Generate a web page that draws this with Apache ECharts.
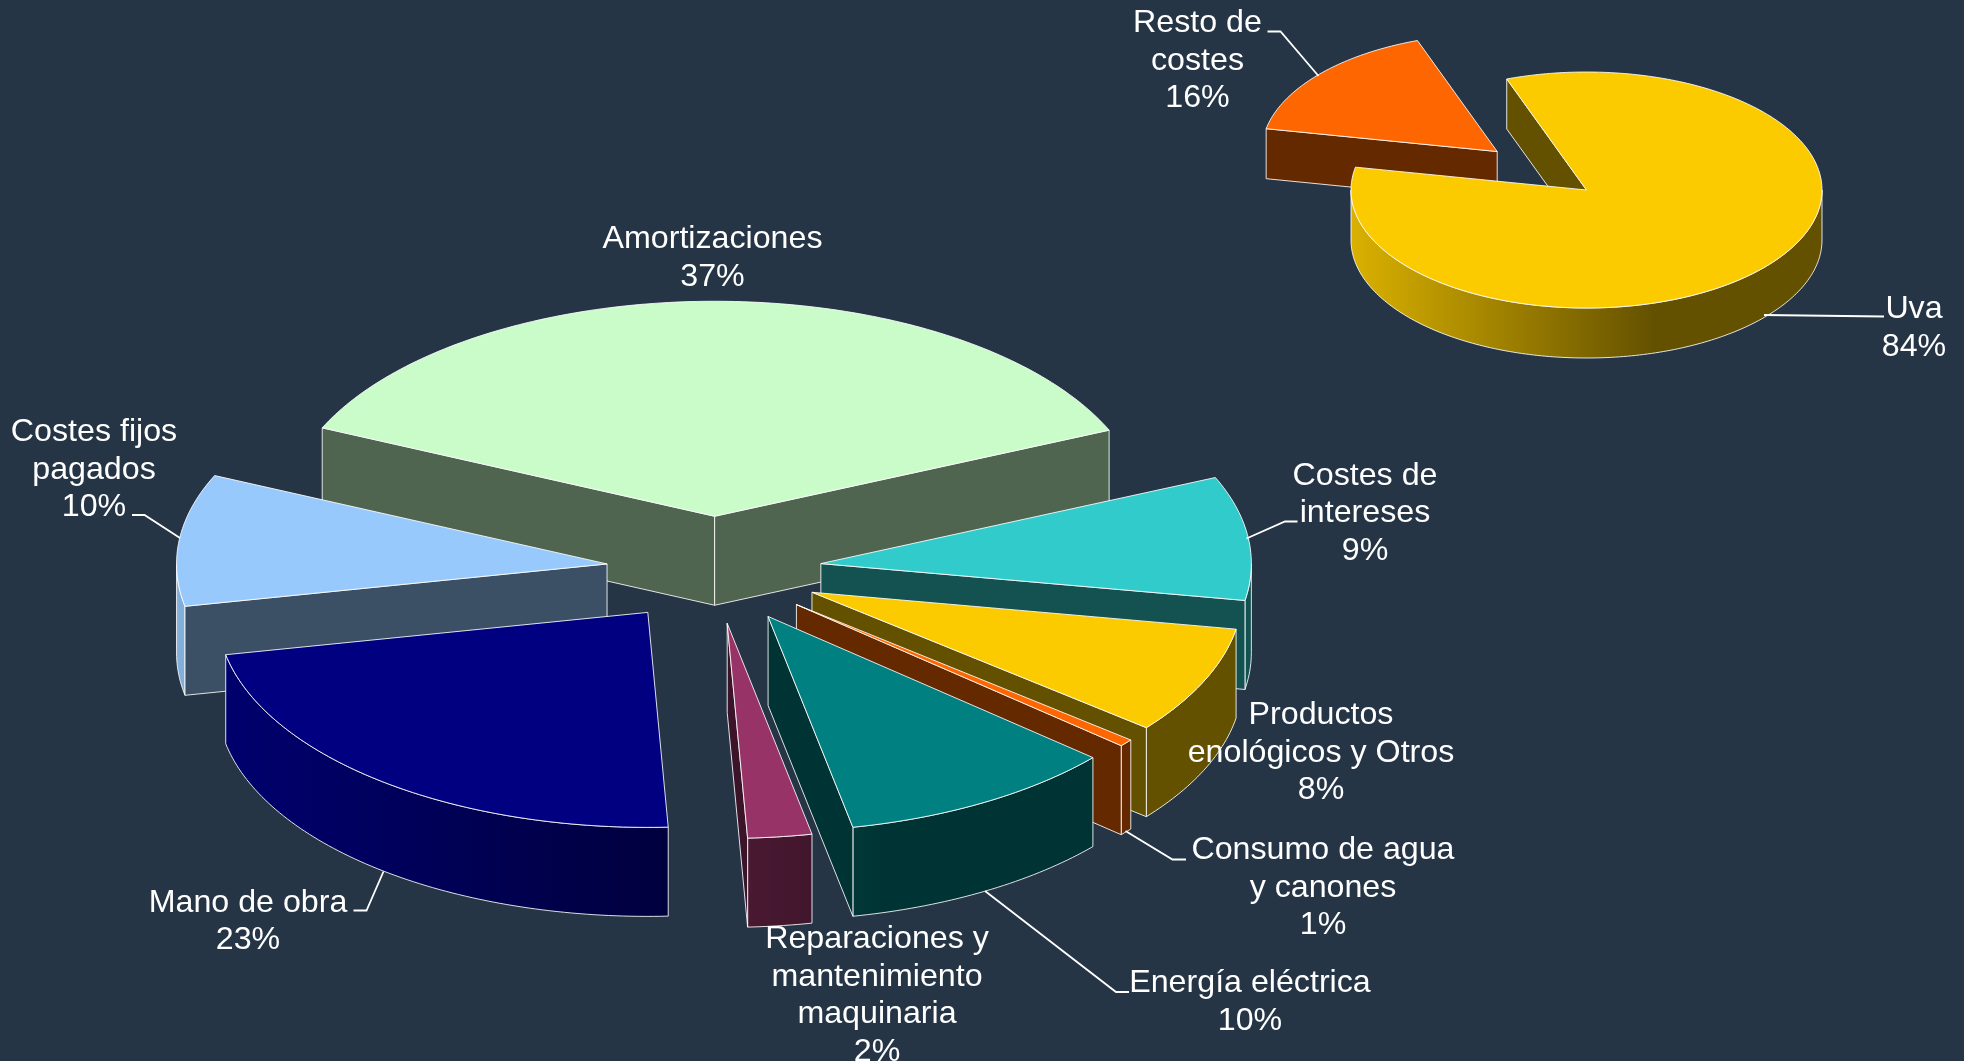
<!DOCTYPE html>
<html>
<head>
<meta charset="utf-8">
<title>Costes</title>
<style>
html, body { margin: 0; padding: 0; background: #253546; }
#chart { width: 1964px; height: 1061px; }
</style>
<script src="https://cdn.jsdelivr.net/npm/echarts@6/dist/echarts.min.js"></script>
</head>
<body>
<div id="chart"></div>
<script>
// data, clockwise from the start angle of each pie
const mainCategories = ['Costes de\nintereses', 'Productos\nenológicos y Otros', 'Consumo de agua\ny canones', 'Energía eléctrica', 'Reparaciones y\nmantenimiento\nmaquinaria', 'Mano de obra', 'Costes fijos\npagados', 'Amortizaciones'];
const mainValues = [9.3, 8.1, 0.55, 10.45, 2.4, 22.6, 9.9, 36.7];
const mainColors = ['#32CBCB', '#FBCB00', '#FD6600', '#008080', '#973366', '#000080', '#97C9FC', '#C9FCC9'];

const smallCategories = ['Uva', 'Resto de\ncostes'];
const smallValues = [83.6, 16.4];
const smallColors = ['#FBCB00', '#FD6600'];

// layout
const mainPie = { categories: mainCategories, values: mainValues, colors: mainColors, cx: 714, cy: 570, rx: 430.5, ry: 215, depth: 89, startAngle: 23.6, explode: [0.25, 0.25, 0.25, 0.25, 0.25, 0.25, 0.25, 0.25] };
const smallPie = { categories: smallCategories, values: smallValues, colors: smallColors, cx: 1586.5, cy: 190, rx: 235.5, ry: 118, depth: 50, startAngle: 109.8, explode: [0, 0.5] };

// centre x, first line centre y
const mainLabelPos = [[1365, 476], [1321, 715.5], [1323, 850.5], [1250, 983.5], [877, 939.5], [248, 903], [94, 432.5], [712.5, 239.5]];
const smallLabelPos = [[1914, 309.5], [1197.5, 23.5]];

const leaderLines = [
	[[1764, 315], [1884, 316.5]],
	[[1318.5, 76], [1280.5, 31.5], [1267.5, 31.5]],
	[[180, 538], [144.5, 515], [132, 515]],
	[[1246.5, 538.5], [1285, 521.5], [1297.5, 521.5]],
	[[1125.5, 831], [1172.5, 859.5], [1186, 859.5]],
	[[985, 891], [1116, 992], [1129, 992]],
	[[383.5, 871.5], [366.5, 910.5], [353.5, 910.5]]
];

const EDGE = 'rgba(255,255,255,0.85)';
const FONT = '32.2px "Liberation Sans", Helvetica, Arial, sans-serif';
const LINE_HEIGHT = 37.5;

function shade(hex, f) {
	const n = parseInt(hex.slice(1), 16);
	const r = Math.round(((n >> 16) & 255) * f);
	const g = Math.round(((n >> 8) & 255) * f);
	const b = Math.round((n & 255) * f);
	return 'rgb(' + r + ',' + g + ',' + b + ')';
}

function buildSlices(pie) {
	const total = pie.values.reduce(function (a, b) { return a + b; }, 0);
	let angle = pie.startAngle;
	const slices = pie.values.map(function (v, i) {
		const span = v / total * 360;
		const mid = (angle - span / 2) * Math.PI / 180;
		const s = {
			from: angle,
			to: angle - span,
			cx: pie.cx + pie.explode[i] * pie.rx * Math.cos(mid),
			cy: pie.cy - pie.explode[i] * pie.ry * Math.sin(mid)
		};
		angle -= span;
		return s;
	});
	// paint back to front
	slices.map(function (s, i) { return i; })
		.sort(function (a, b) { return slices[a].cy - slices[b].cy; })
		.forEach(function (idx, rank) { slices[idx].z2 = rank * 10; });
	return slices;
}

function makeRenderItem(pie) {
	const slices = buildSlices(pie);

	function rim(s, deg) {
		const a = deg * Math.PI / 180;
		return [s.cx + pie.rx * Math.cos(a), s.cy - pie.ry * Math.sin(a)];
	}

	function arc(s, from, to) {
		const pts = [];
		const n = Math.max(2, Math.ceil(Math.abs(from - to)));
		for (let k = 0; k <= n; k++) {
			pts.push(rim(s, from + (to - from) * k / n));
		}
		return pts;
	}

	function down(p, d) {
		return [p[0], p[1] + d];
	}

	// a radial face shows when the slice lies above its edge on screen
	function faceVisible(s, deg, inward) {
		const p = rim(s, deg);
		const q = rim(s, deg + inward);
		const px = p[0] - s.cx, py = p[1] - s.cy;
		const qx = q[0] - s.cx, qy = q[1] - s.cy;
		if (Math.abs(px) < 1e-6) return false;
		return (px * qy - py * qx) / px < 0;
	}

	return function (params, api) {
		const i = params.dataIndex;
		const s = slices[i];
		const color = pie.colors[i];
		const children = [];

		[[s.from, -1], [s.to, 1]].forEach(function (f) {
			if (!faceVisible(s, f[0], f[1] * 2)) return;
			const p = rim(s, f[0]);
			children.push({
				type: 'polygon',
				z2: s.z2 + 2,
				shape: { points: [[s.cx, s.cy], p, down(p, pie.depth), [s.cx, s.cy + pie.depth]] },
				style: { fill: shade(color, 0.4), stroke: EDGE, lineWidth: 1 }
			});
		});

		// curved wall, front half only
		const a0 = Math.min(s.from, 0);
		const a1 = Math.max(s.to, -180);
		if (a0 > a1) {
			const top = arc(s, a0, a1);
			const bottom = top.map(function (p) { return down(p, pie.depth); }).reverse();
			children.push({
				type: 'polygon',
				z2: s.z2 + 1,
				shape: { points: top.concat(bottom) },
				style: {
					fill: new echarts.graphic.LinearGradient(s.cx - pie.rx, 0, s.cx + 0.29 * pie.rx, 0, [
						{ offset: 0, color: shade(color, 0.87) },
						{ offset: 1, color: shade(color, 0.4) }
					], true),
					stroke: EDGE,
					lineWidth: 1
				}
			});
		}

		children.push({
			type: 'polygon',
			z2: s.z2 + 3,
			shape: { points: [[s.cx, s.cy]].concat(arc(s, s.from, s.to)) },
			style: { fill: color, stroke: EDGE, lineWidth: 1 }
		});

		return { type: 'group', children: children };
	};
}

function labelElements(pie, positions) {
	const total = pie.values.reduce(function (a, b) { return a + b; }, 0);
	return pie.categories.map(function (name, i) {
		return {
			type: 'text',
			z: 100,
			silent: true,
			style: {
				text: name + '\n' + Math.round(pie.values[i] / total * 100) + '%',
				x: positions[i][0],
				y: positions[i][1] - LINE_HEIGHT / 2,
				align: 'center',
				verticalAlign: 'top',
				lineHeight: LINE_HEIGHT,
				fill: '#fff',
				font: FONT
			}
		};
	});
}

const leaders = leaderLines.map(function (pts) {
	return {
		type: 'polyline',
		z: 99,
		silent: true,
		shape: { points: pts },
		style: { stroke: '#fff', lineWidth: 1.8, fill: null }
	};
});

function pieSeries(pie) {
	return {
		type: 'custom',
		coordinateSystem: 'none',
		silent: true,
		animation: false,
		renderItem: makeRenderItem(pie),
		data: pie.values.map(function (v) { return [v]; })
	};
}

const chart = echarts.init(document.getElementById('chart'));
chart.setOption({
	backgroundColor: '#253546',
	animation: false,
	series: [pieSeries(mainPie), pieSeries(smallPie)],
	graphic: {
		elements: leaders
			.concat(labelElements(mainPie, mainLabelPos))
			.concat(labelElements(smallPie, smallLabelPos))
	}
});
</script>
</body>
</html>
